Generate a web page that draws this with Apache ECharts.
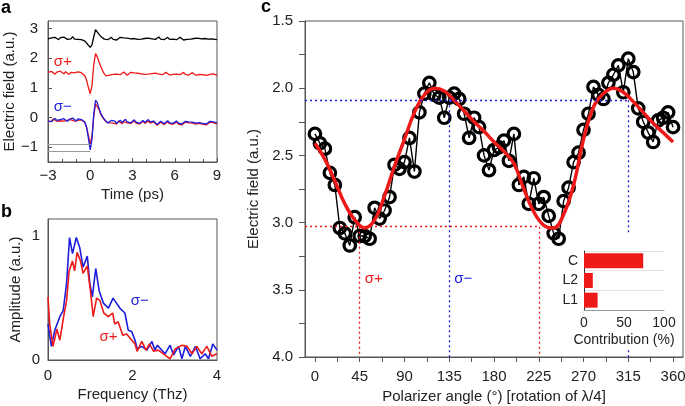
<!DOCTYPE html>
<html>
<head>
<meta charset="utf-8">
<script src="https://cdn.jsdelivr.net/npm/echarts@6/dist/echarts.min.js"></script>
<style>
html, body { margin: 0; padding: 0; background: #fff; }
#chart { width: 685px; height: 406px; }
</style>
</head>
<body>
<div id="chart"></div>
<script>
"use strict";

var FONT = "'Liberation Sans', Arial, sans-serif";
var RED = "#ee1a1a";
var BLUE = "#1c1cdc";
var AXIS = "#555";

// ---- panel a : time traces, sampled evenly from -3 to 9 ps
var timeStart = -3;
var timeEnd = 9;
var traceRef = [2.65, 2.61, 2.68, 2.63, 2.70, 2.66, 2.62, 2.69, 2.64, 2.71, 2.66, 2.63, 2.68, 2.65, 2.72, 2.64, 2.69, 2.63, 2.67, 2.62, 2.60, 2.57, 2.50, 2.43,
  2.36, 2.45, 2.72, 2.96, 2.90, 2.80, 2.73, 2.69, 2.64, 2.68, 2.62, 2.66,
  2.70, 2.63, 2.67, 2.61, 2.66, 2.70, 2.64, 2.68, 2.62, 2.67, 2.71, 2.65, 2.61, 2.66, 2.69, 2.63, 2.68, 2.64, 2.70, 2.66,
  2.62, 2.67, 2.72, 2.65, 2.69, 2.63, 2.66, 2.71, 2.64, 2.68, 2.62, 2.66, 2.70, 2.63, 2.67, 2.64, 2.69, 2.62, 2.66, 2.70,
  2.65, 2.61, 2.67, 2.63, 2.68, 2.64, 2.60, 2.66, 2.62, 2.67, 2.63, 2.65, 2.61, 2.66, 2.62, 2.64, 2.60, 2.65, 2.61, 2.63, 2.62];
var tracePlusTop = [1.52, 1.48, 1.55, 1.50, 1.46, 1.53, 1.49, 1.56, 1.51, 1.47, 1.54, 1.50, 1.45, 1.52, 1.57, 1.50, 1.48, 1.54, 1.49, 1.51, 1.47, 1.40, 1.24, 1.00,
  0.80, 1.08, 1.78, 2.15, 2.04, 1.87, 1.72, 1.58, 1.47, 1.40, 1.38, 1.43,
  1.48, 1.45, 1.51, 1.46, 1.50, 1.44, 1.49, 1.53, 1.47, 1.42, 1.48, 1.52, 1.46, 1.50, 1.44, 1.49, 1.54, 1.47, 1.51, 1.45,
  1.50, 1.46, 1.52, 1.48, 1.43, 1.49, 1.53, 1.46, 1.50, 1.44, 1.48, 1.52, 1.47, 1.43, 1.49, 1.45, 1.51, 1.46, 1.50, 1.44,
  1.48, 1.52, 1.45, 1.49, 1.43, 1.47, 1.51, 1.46, 1.42, 1.48, 1.45, 1.50, 1.44, 1.47, 1.42, 1.48, 1.45, 1.43, 1.47, 1.44, 1.42];
var traceMinus = [-0.12, -0.06, -0.14, -0.08, -0.03, -0.10, -0.15, -0.07, -0.11, -0.04, -0.09, -0.13, -0.06, -0.10, -0.02, -0.08, -0.12, -0.05, -0.09, -0.07, -0.10, -0.16, -0.36, -0.72,
  -1.09, -0.72, 0.12, 0.58, 0.50, 0.30, 0.13, 0.03, -0.06, -0.12, -0.19, -0.15,
  -0.10, -0.16, -0.12, -0.20, -0.14, -0.09, -0.17, -0.13, -0.06, -0.15, -0.11, -0.18, -0.13, -0.08, -0.16, -0.12, -0.20, -0.14, -0.10, -0.17,
  -0.13, -0.07, -0.15, -0.19, -0.12, -0.16, -0.24, -0.18, -0.13, -0.17, -0.21, -0.15, -0.11, -0.18, -0.14, -0.20, -0.16, -0.12, -0.19, -0.15,
  -0.22, -0.17, -0.13, -0.18, -0.15, -0.21, -0.16, -0.12, -0.19, -0.23, -0.17, -0.14, -0.20, -0.16, -0.22, -0.18, -0.13, -0.19, -0.15, -0.21, -0.18];
var tracePlusLow = [-0.14, -0.09, -0.12, -0.05, -0.10, -0.13, -0.08, -0.11, -0.06, -0.12, -0.08, -0.10, -0.14, -0.07, -0.09, -0.12, -0.06, -0.10, -0.13, -0.08, -0.11, -0.18, -0.34, -0.62,
  -0.90, -0.62, 0.05, 0.46, 0.42, 0.26, 0.10, 0.00, -0.08, -0.15, -0.21, -0.18,
  -0.13, -0.19, -0.15, -0.22, -0.12, -0.17, -0.21, -0.14, -0.10, -0.18, -0.14, -0.20, -0.16, -0.11, -0.19, -0.15, -0.22, -0.17, -0.13, -0.20,
  -0.16, -0.12, -0.19, -0.23, -0.15, -0.20, -0.26, -0.21, -0.16, -0.20, -0.24, -0.18, -0.14, -0.21, -0.17, -0.23, -0.19, -0.15, -0.22, -0.18,
  -0.25, -0.20, -0.16, -0.21, -0.18, -0.24, -0.19, -0.15, -0.22, -0.26, -0.20, -0.17, -0.23, -0.19, -0.25, -0.21, -0.16, -0.22, -0.18, -0.24, -0.22];
var refLevelsA = [-0.89, -1.13];
var ticksA_y = [-1, 0, 1, 2, 3];

// ---- panel b : spectra
var freqMinus = [0, 0.08, 0.16, 0.28, 0.36, 0.44, 0.51, 0.58, 0.67, 0.75, 0.83, 0.93, 0.99, 1.05, 1.13, 1.21, 1.31, 1.43, 1.54, 1.62, 1.70, 1.82, 1.90, 1.98,
  2.06, 2.11, 2.22, 2.34, 2.46, 2.53, 2.59, 2.69, 2.77, 2.89, 2.97, 3.09, 3.17, 3.25, 3.37, 3.49, 3.60, 3.72, 3.80, 3.90, 4.0];
var ampMinus = [0.29, 0.11, 0.24, 0.35, 0.40, 0.62, 0.99, 0.86, 0.99, 0.91, 0.75, 0.84, 0.62, 0.51, 0.74, 0.56, 0.46, 0.42, 0.50, 0.46, 0.42, 0.38, 0.24, 0.23,
  0.16, 0.09, 0.11, 0.08, 0.15, 0.08, 0.12, 0.08, 0.05, 0.12, 0.04, 0.11, 0.01, 0.11, 0.03, 0.11, 0.01, 0.05, 0.01, 0.13, 0.08];
var freqPlus = [0, 0.04, 0.12, 0.21, 0.28, 0.37, 0.44, 0.50, 0.58, 0.63, 0.69, 0.77, 0.83, 0.93, 1.01, 1.07, 1.15, 1.23, 1.32, 1.43, 1.53, 1.58, 1.66, 1.77,
  1.86, 1.96, 2.06, 2.11, 2.22, 2.32, 2.40, 2.50, 2.61, 2.73, 2.81, 2.89, 3.01, 3.17, 3.29, 3.41, 3.52, 3.64, 3.76, 3.88, 4.0];
var ampPlus = [0.51, 0.29, 0.11, 0.25, 0.16, 0.35, 0.48, 0.72, 0.80, 0.72, 0.87, 0.80, 0.70, 0.76, 0.54, 0.35, 0.50, 0.48, 0.38, 0.35, 0.38, 0.29, 0.31, 0.20,
  0.21, 0.17, 0.13, 0.07, 0.15, 0.08, 0.13, 0.07, 0.08, 0.05, 0.03, 0.01, 0.09, 0.12, 0.11, 0.05, 0.11, 0.05, 0.11, 0.03, 0.05];

// ---- panel c : field vs polarizer angle (one point every 5 deg, 0..360)
var ANGLE_STEP = 5;
var fieldValues = [2.34, 2.41, 2.45, 2.63, 2.72, 3.04, 3.08, 3.17, 2.96, 3.10, 3.10, 3.12, 2.89, 2.97, 2.91, 2.81, 2.57, 2.60, 2.55, 2.37,
  2.62, 2.18, 2.04, 1.96, 2.05, 2.07, 2.22, 2.07, 2.04, 2.08, 2.19, 2.37, 2.22, 2.29, 2.50, 2.61, 2.46, 2.44, 2.39, 2.54,
  2.34, 2.72, 2.66, 2.86, 2.67, 2.86, 2.81, 2.95, 3.08, 3.12, 2.84, 2.74, 2.55, 2.48, 2.31, 2.19, 1.99, 2.05, 2.08, 1.96,
  1.90, 1.83, 2.03, 1.78, 1.88, 2.15, 2.25, 2.33, 2.40, 2.24, 2.22, 2.18, 2.29];
var FIT_STEP = 10;
var fitValues = [2.41, 2.53, 2.69, 2.86, 2.98, 3.04, 2.98, 2.80, 2.58, 2.38, 2.18, 2.05, 2.00, 2.02, 2.09, 2.17, 2.25, 2.32, 2.40,
  2.47, 2.56, 2.75, 2.92, 3.02, 3.04, 2.94, 2.72, 2.38, 2.14, 2.04, 2.00, 2.03, 2.10, 2.18, 2.26, 2.33, 2.40];
var levelMinus = 2.09, levelPlus = 3.03;
var anglesMinus = [135, 315], anglesPlus = [45, 225];
var ticksC_x = [0, 45, 90, 135, 180, 225, 270, 315, 360];
var minorC_x = [0, 22.5, 45, 67.5, 90, 112.5, 135, 157.5, 180, 202.5, 225, 247.5, 270, 292.5, 315, 337.5, 360];

// inset
var contribCats = ["L1", "L2", "C"];
var contribValues = [17, 11, 74];

function toTimePairs(vals) {
  var step = (timeEnd - timeStart) / (vals.length - 1);
  return vals.map(function (v, i) { return [timeStart + i * step, v]; });
}
function zip(xs, ys) {
  return xs.map(function (x, i) { return [x, ys[i]]; });
}
function stepPairs(vals, step) {
  return vals.map(function (v, i) { return [i * step, v]; });
}
function minus(v) {
  return String(v).replace("-", "\u2212");
}

var chart = echarts.init(document.getElementById("chart"), null, { renderer: "canvas" });

var labelStyle = { fontFamily: FONT, fontSize: 15, color: "#222" };
var nameStyle = { fontFamily: FONT, fontSize: 15, color: "#222" };

function line(xi, data, color, width, z) {
  return {
    type: "line", xAxisIndex: xi, yAxisIndex: xi, data: data,
    symbol: "none", animation: false, z: z || 2,
    lineStyle: { color: color, width: width }
  };
}
function sigma(coord, text, color) {
  return {
    coord: coord,
    label: { show: true, position: "right", distance: 0, color: color, fontSize: 15, fontFamily: FONT, formatter: text }
  };
}

var option = {
  animation: false,
  textStyle: { fontFamily: FONT },
  grid: [
    { left: 48, top: 21, width: 169, height: 141, show: true, borderColor: AXIS, borderWidth: 1, outerBoundsMode: "none" },
    { left: 48, top: 219, width: 169, height: 141, show: true, borderColor: AXIS, borderWidth: 1, outerBoundsMode: "none" },
    { left: 305, top: 21, width: 378, height: 336, show: true, borderColor: AXIS, borderWidth: 1, outerBoundsMode: "none" },
    { left: 584, top: 251, width: 80, height: 59, show: false, outerBoundsMode: "none" }
  ],
  xAxis: [
    {
      gridIndex: 0, type: "value", min: -3, max: 9, interval: 3,
      axisLine: { onZero: false, lineStyle: { color: AXIS } },
      axisTick: { inside: true, length: 4, lineStyle: { color: AXIS } },
      minorTick: { show: true, splitNumber: 3, length: 3, lineStyle: { color: AXIS } },
      axisLabel: Object.assign({ margin: 6, formatter: minus }, labelStyle),
      splitLine: { show: false },
      name: "Time (ps)", nameLocation: "middle", nameGap: 25, nameTextStyle: nameStyle
    },
    {
      gridIndex: 1, type: "value", min: 0, max: 4, interval: 2,
      axisLine: { onZero: false, lineStyle: { color: AXIS } },
      axisTick: { show: false },
      axisLabel: Object.assign({ margin: 8 }, labelStyle),
      splitLine: { show: false },
      name: "Frequency (Thz)", nameLocation: "middle", nameGap: 27, nameTextStyle: nameStyle
    },
    {
      gridIndex: 2, type: "value", min: -10, max: 370,
      axisLine: { onZero: false, lineStyle: { color: AXIS } },
      axisTick: { length: 5, customValues: minorC_x, lineStyle: { color: AXIS } },
      axisLabel: Object.assign({ margin: 12, customValues: ticksC_x }, labelStyle),
      splitLine: { show: false },
      name: "Polarizer angle (\u00b0) [rotation of \u03bb/4]", nameLocation: "middle", nameGap: 32, nameTextStyle: nameStyle
    },
    {
      gridIndex: 3, type: "value", min: 0, max: 100, interval: 50, z: 60,
      axisLine: { show: true, onZero: false, lineStyle: { color: "#999" } },
      axisTick: { show: false },
      axisLabel: Object.assign({ margin: 6 }, labelStyle, { fontSize: 14 }),
      splitLine: { show: false },
      name: "Contribution (%)", nameLocation: "middle", nameGap: 23,
      nameTextStyle: Object.assign({}, nameStyle, { fontSize: 14 })
    }
  ],
  yAxis: [
    {
      gridIndex: 0, type: "value", min: -1.5, max: 3.25,
      axisLine: { onZero: false, lineStyle: { color: AXIS } },
      axisTick: { inside: true, length: 4, customValues: ticksA_y, lineStyle: { color: AXIS } },
      axisLabel: Object.assign({ margin: 10, customValues: ticksA_y, formatter: minus }, labelStyle),
      splitLine: { show: false },
      name: "Electric field (a.u.)", nameLocation: "middle", nameGap: 28, nameTextStyle: nameStyle
    },
    {
      gridIndex: 1, type: "value", min: 0, max: 1.14,
      axisLine: { onZero: false, lineStyle: { color: AXIS } },
      axisTick: { show: false },
      axisLabel: Object.assign({ margin: 8, customValues: [0, 1] }, labelStyle),
      splitLine: { show: false },
      name: "Amplitude (a.u.)", nameLocation: "middle", nameGap: 25, nameTextStyle: nameStyle
    },
    {
      gridIndex: 2, type: "value", min: 1.5, max: 4.0, interval: 0.5, inverse: true,
      axisLine: { onZero: false, lineStyle: { color: AXIS } },
      axisTick: { length: 6, lineStyle: { color: AXIS } },
      minorTick: { show: true, splitNumber: 2, length: 6, lineStyle: { color: AXIS } },
      axisLabel: Object.assign({ margin: 12, formatter: function (v) { return v.toFixed(1); } }, labelStyle),
      splitLine: { show: false },
      name: "Electric field (a.u.)", nameLocation: "middle", nameGap: 32, nameTextStyle: nameStyle
    },
    {
      gridIndex: 3, type: "category", data: contribCats, z: 60,
      axisLine: { show: true, lineStyle: { color: "#333" } },
      axisTick: { show: false },
      axisLabel: Object.assign({ margin: 6 }, labelStyle, { fontSize: 14 }),
      splitLine: { show: true, lineStyle: { color: "#e2e2e2" } }
    }
  ],
  graphic: [
    { type: "rect", z: 50, shape: { x: 566, y: 234, width: 114, height: 115 }, style: { fill: "#fff" } },
    { type: "text", x: 1, y: 8, style: { text: "a", font: "bold 18px " + FONT, fill: "#000", verticalAlign: "middle" } },
    { type: "text", x: 1, y: 212, style: { text: "b", font: "bold 18px " + FONT, fill: "#000", verticalAlign: "middle" } },
    { type: "text", x: 261, y: 7, style: { text: "c", font: "bold 18px " + FONT, fill: "#000", verticalAlign: "middle" } }
  ],
  series: []
};

// panel a
var refA = line(0, toTimePairs(traceRef), "#000", 1.3);
refA.markLine = {
  silent: true, symbol: "none", animation: false,
  lineStyle: { color: "#9a9a9a", width: 1, type: "solid" }, label: { show: false },
  data: refLevelsA.map(function (y) { return [{ coord: [timeStart, y] }, { coord: [0, y] }]; })
};
var plusTopA = line(0, toTimePairs(tracePlusTop), RED, 1.3);
plusTopA.markPoint = { symbol: "circle", symbolSize: 0, animation: false, data: [sigma([-2.6, 1.87], "\u03c3+", RED)] };
var minusA = line(0, toTimePairs(traceMinus), BLUE, 1.3, 3);
minusA.markPoint = { symbol: "circle", symbolSize: 0, animation: false, data: [sigma([-2.6, 0.35], "\u03c3\u2212", BLUE)] };
option.series.push(refA, plusTopA, line(0, toTimePairs(tracePlusLow), RED, 1.3), minusA);

// panel b
var minusB = line(1, zip(freqMinus, ampMinus), BLUE, 1.6);
minusB.markPoint = { symbol: "circle", symbolSize: 0, animation: false, data: [sigma([1.96, 0.48], "\u03c3\u2212", BLUE)] };
var plusB = line(1, zip(freqPlus, ampPlus), RED, 1.6);
plusB.markPoint = { symbol: "circle", symbolSize: 0, animation: false, data: [sigma([1.22, 0.19], "\u03c3+", RED)] };
option.series.push(minusB, plusB);

// panel c
var dotted = function (color) {
  return { color: color, width: 1.3, type: [2, 3] };
};
var guideLines = [];
guideLines.push([{ coord: [-10, levelMinus], lineStyle: dotted(BLUE) }, { coord: [anglesMinus[1], levelMinus] }]);
anglesMinus.forEach(function (a) {
  guideLines.push([{ coord: [a, levelMinus], lineStyle: dotted(BLUE) }, { coord: [a, 4.0] }]);
});
guideLines.push([{ coord: [-10, levelPlus], lineStyle: dotted(RED) }, { coord: [anglesPlus[1], levelPlus] }]);
anglesPlus.forEach(function (a) {
  guideLines.push([{ coord: [a, levelPlus], lineStyle: dotted(RED) }, { coord: [a, 4.0] }]);
});

option.series.push({
  type: "line", xAxisIndex: 2, yAxisIndex: 2, data: [], z: 1,
  markLine: { silent: true, symbol: "none", animation: false, label: { show: false }, data: guideLines },
  markPoint: {
    symbol: "circle", symbolSize: 0, animation: false,
    data: [sigma([50, 3.42], "\u03c3+", RED), sigma([140, 3.42], "\u03c3\u2212", BLUE)]
  }
});
option.series.push({
  type: "line", xAxisIndex: 2, yAxisIndex: 2, data: stepPairs(fieldValues, ANGLE_STEP), z: 3,
  symbol: "circle", symbolSize: 11.5, showAllSymbol: true,
  lineStyle: { color: "#000", width: 1.4 },
  itemStyle: { color: "rgba(0,0,0,0)", borderColor: "#000", borderWidth: 3.2 }
});
option.series.push({
  type: "line", xAxisIndex: 2, yAxisIndex: 2, data: stepPairs(fitValues, FIT_STEP), z: 4,
  smooth: 0.4, symbol: "none", lineStyle: { color: RED, width: 3.5 }
});

// inset bars
option.series.push({
  type: "bar", xAxisIndex: 3, yAxisIndex: 3, data: contribValues, z: 60,
  barWidth: 15, itemStyle: { color: RED }
});

chart.setOption(option);
</script>
</body>
</html>
